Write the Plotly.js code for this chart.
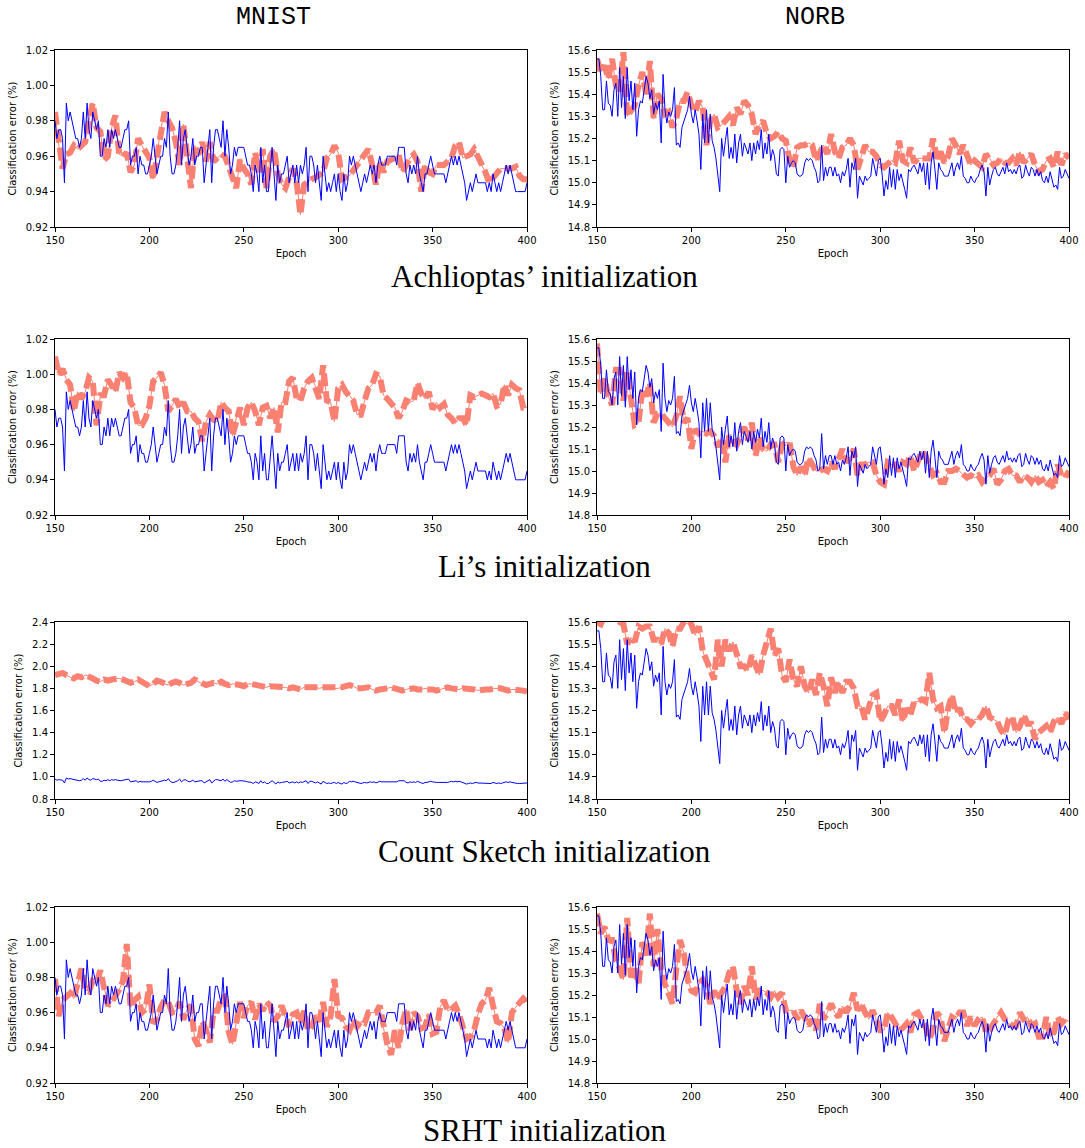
<!DOCTYPE html>
<html><head><meta charset="utf-8">
<script src="https://cdn.plot.ly/plotly-3.0.1.min.js"></script>
<style>body{margin:0;background:#fff}</style>
</head><body><div id="chart" style="width:1085px;height:1148px"></div>
<script>
// Baseline (blue) series, one value per epoch 150..400
const blueMnist = [
0.98,0.97,0.975,0.975,0.97,0.945,0.99,0.98,0.985,0.98,
0.975,0.97,0.97,0.965,0.97,0.985,0.97,0.99,0.975,0.97,
0.985,0.98,0.975,0.98,0.96,0.96,0.97,0.965,0.975,0.965,
0.975,0.97,0.975,0.97,0.965,0.965,0.97,0.975,0.975,0.98,
0.955,0.96,0.96,0.965,0.95,0.96,0.955,0.955,0.95,0.95,
0.955,0.96,0.97,0.96,0.95,0.955,0.96,0.96,0.97,0.965,
0.985,0.96,0.95,0.95,0.955,0.965,0.98,0.955,0.97,0.975,
0.965,0.955,0.96,0.97,0.955,0.96,0.96,0.965,0.965,0.945,
0.955,0.965,0.975,0.945,0.965,0.975,0.975,0.97,0.965,0.98,
0.96,0.975,0.965,0.95,0.955,0.965,0.96,0.965,0.965,0.965,
0.965,0.96,0.955,0.955,0.95,0.94,0.955,0.95,0.94,0.965,
0.945,0.955,0.94,0.94,0.955,0.965,0.95,0.935,0.955,0.945,
0.95,0.95,0.955,0.96,0.945,0.95,0.955,0.945,
0.955,0.945,0.955,0.95,0.955,0.965,0.94,0.96,0.96,0.955,
0.945,0.955,0.945,0.935,0.96,0.95,0.94,0.945,0.94,0.945,
0.95,0.94,0.95,0.94,0.935,0.95,0.94,0.945,0.96,0.955,
0.96,0.955,0.95,0.945,0.94,0.945,0.95,0.945,0.95,0.955,
0.95,0.955,0.945,0.955,0.96,0.955,0.955,0.955,0.96,0.96,
0.96,0.96,0.96,0.955,0.965,0.965,0.965,0.965,0.95,0.945,
0.955,0.95,0.955,0.95,0.96,0.95,0.945,0.94,0.95,0.95,
0.955,0.96,0.955,0.95,0.95,0.95,0.95,0.95,0.95,0.945,
0.95,0.955,0.96,0.955,0.96,0.955,0.96,0.955,0.95,0.945,
0.935,0.94,0.945,0.94,0.945,0.95,0.945,0.945,0.945,0.945,
0.945,0.94,0.945,0.94,0.95,0.945,0.94,0.945,0.94,0.945,
0.95,0.955,0.95,0.955,0.95,0.945,0.94,0.94,0.94,0.94,
0.94,0.94,0.945];
const blueNorb = [
15.56,15.56,15.48,15.33,15.33,15.46,15.36,15.35,15.30,15.42,
15.45,15.30,15.52,15.34,15.48,15.29,15.52,15.37,15.46,15.33,
15.45,15.21,15.33,15.37,15.36,15.42,15.48,15.45,15.38,15.42,
15.31,15.36,15.33,15.37,15.18,15.49,15.33,15.27,15.32,15.30,
15.33,15.43,15.17,15.18,15.16,15.25,15.28,15.31,15.33,15.39,
15.31,15.27,15.33,15.28,15.22,15.06,15.31,15.18,15.33,15.18,
15.31,15.19,15.16,15.11,15.04,14.96,15.20,15.12,15.19,15.25,
15.11,15.16,15.11,15.22,15.09,15.18,15.22,15.12,15.18,15.15,
15.13,15.18,15.10,15.18,15.13,15.19,15.15,15.24,15.11,15.18,
15.13,15.22,15.10,15.15,15.12,15.04,15.03,15.15,15.16,15.15,
15.00,15.12,15.07,15.09,15.10,15.09,15.04,15.03,15.03,15.04,
15.09,15.11,15.10,15.11,15.10,15.07,15.05,15.00,15.01,15.17,
15.01,15.07,15.03,15.07,15.07,15.03,15.07,15.03,
15.04,15.00,15.05,15.03,15.06,15.11,14.98,15.09,15.06,15.11,
14.93,15.03,15.01,14.99,15.03,15.01,15.02,15.03,15.11,15.06,
15.03,15.10,15.11,15.04,14.94,15.01,14.97,15.07,14.98,15.06,
14.97,15.06,15.01,15.04,15.01,14.97,14.93,15.06,15.05,15.07,
15.08,15.06,15.04,15.09,15.05,15.09,14.99,15.09,14.97,15.09,
15.14,15.06,14.97,15.09,15.06,15.05,15.03,15.03,15.03,15.06,
15.09,15.03,15.07,15.09,15.06,15.12,15.03,15.02,15.00,15.00,
15.03,15.01,15.00,15.02,15.03,15.06,15.08,15.05,14.94,15.07,
14.99,15.03,15.06,15.07,15.04,15.03,15.05,15.07,15.04,15.09,
15.05,15.06,15.04,15.06,15.04,15.07,15.08,15.02,15.03,15.08,
15.05,15.03,15.07,15.06,15.03,15.06,15.03,15.05,15.01,15.00,
15.03,15.00,15.05,15.01,14.98,14.99,14.97,15.07,15.02,15.03,
15.06,15.04,15.02];

// Sketched-initialization (orange) series, one value every 2 epochs 150..400
const orAchMnist = [
0.985,0.966,0.953,0.961,0.962,0.966,0.964,0.966,0.968,0.980,
0.990,0.976,0.974,0.958,0.960,0.976,0.983,0.961,0.960,0.962,
0.951,0.955,0.970,0.966,0.962,0.959,0.947,0.961,0.975,0.985,
0.980,0.976,0.968,0.955,0.978,0.962,0.942,0.966,0.961,0.968,
0.957,0.968,0.957,0.959,0.961,0.960,0.955,0.948,0.942,0.958,
0.953,0.950,0.944,0.962,0.951,0.964,0.942,0.960,0.964,0.950,
0.944,0.942,0.948,0.953,0.945,0.927,0.944,0.946,0.947,0.948,
0.950,0.951,0.959,0.961,0.966,0.962,0.947,0.948,0.949,0.952,
0.955,0.959,0.962,0.964,0.955,0.944,0.957,0.951,0.957,0.958,
0.959,0.961,0.951,0.955,0.959,0.961,0.957,0.940,0.955,0.951,
0.950,0.955,0.955,0.955,0.957,0.959,0.966,0.968,0.959,0.960,
0.961,0.964,0.960,0.955,0.951,0.945,0.948,0.951,0.953,0.953,
0.953,0.953,0.954,0.949,0.947,0.947];
const orAchNorb = [
15.56,15.50,15.53,15.47,15.56,15.44,15.41,15.59,15.30,15.33,
15.35,15.44,15.50,15.40,15.55,15.29,15.40,15.38,15.31,15.32,
15.25,15.29,15.37,15.37,15.41,15.35,15.32,15.37,15.34,15.17,
15.28,15.31,15.25,15.26,15.28,15.30,15.26,15.34,15.31,15.37,
15.35,15.31,15.22,15.26,15.28,15.22,15.20,15.21,15.23,15.20,
15.19,15.10,15.07,15.16,15.17,15.17,15.18,15.17,15.10,15.14,
15.17,15.13,15.22,15.14,15.11,15.16,15.17,15.20,15.17,15.06,
15.12,15.17,15.14,15.14,15.12,15.08,15.07,15.09,15.10,15.09,
15.19,15.10,15.09,15.16,15.09,15.11,15.11,15.11,15.11,15.20,
15.11,15.14,15.09,15.12,15.20,15.17,15.13,15.17,15.13,15.08,
15.10,15.08,15.07,15.13,15.11,15.08,15.09,15.11,15.09,15.09,
15.11,15.08,15.14,15.09,15.11,15.13,15.08,15.05,15.06,15.10,
15.11,15.07,15.14,15.08,15.13,15.11];
const orLiMnist = [
1.010,1.000,1.003,0.997,0.994,0.979,0.990,0.986,0.990,0.998,
0.996,0.971,0.988,0.988,0.997,0.994,0.990,1.001,0.998,1.001,
0.984,0.981,0.971,0.971,0.975,0.982,0.996,0.998,1.001,0.994,
0.979,0.982,0.986,0.981,0.984,0.979,0.979,0.975,0.973,0.962,
0.973,0.977,0.974,0.973,0.984,0.981,0.979,0.965,0.975,0.981,
0.971,0.981,0.984,0.979,0.971,0.981,0.982,0.975,0.981,0.967,
0.984,0.984,0.996,0.998,0.986,0.985,0.992,0.996,0.998,0.993,
0.986,1.005,0.985,0.984,0.973,0.992,0.994,0.990,0.988,0.985,
0.977,0.977,0.985,0.992,0.994,1.000,0.999,0.988,0.986,0.984,
0.981,0.975,0.979,0.985,0.984,0.985,0.995,0.989,0.986,0.990,
0.980,0.984,0.981,0.983,0.977,0.975,0.972,0.975,0.975,0.971,
0.988,0.987,0.988,0.989,0.988,0.987,0.989,0.982,0.983,0.994,
0.988,0.994,0.992,0.991,0.981,0.981];
const orLiNorb = [
15.58,15.35,15.42,15.34,15.30,15.46,15.46,15.32,15.45,15.34,
15.21,15.22,15.37,15.34,15.40,15.22,15.26,15.26,15.24,15.22,
15.20,15.25,15.34,15.22,15.24,15.10,15.19,15.17,15.18,15.17,
15.18,15.16,15.11,15.15,15.04,15.16,15.14,15.12,15.16,15.20,
15.14,15.22,15.07,15.15,15.10,15.09,15.12,15.12,15.04,15.12,
15.13,15.13,15.02,14.98,15.02,14.98,15.06,15.03,15.00,15.00,
15.01,15.00,15.04,15.01,15.06,15.10,15.04,15.06,15.10,14.98,
15.03,15.03,15.04,15.04,14.98,14.95,14.94,15.04,15.03,15.03,
15.00,15.04,15.03,15.07,15.00,15.04,15.09,15.07,15.03,14.98,
14.99,14.95,14.95,15.00,15.00,15.01,15.00,14.98,14.97,14.98,
14.97,14.98,14.95,14.97,14.98,15.01,14.94,14.96,15.00,15.01,
14.98,14.98,14.95,14.98,14.97,14.95,14.98,14.95,14.96,14.93,
14.95,14.92,15.03,14.98,14.97,15.00];
const orCsMnist = [
1.92,1.93,1.94,1.92,1.90,1.89,1.91,1.90,1.92,1.91,
1.89,1.87,1.86,1.88,1.87,1.88,1.89,1.89,1.88,1.87,
1.85,1.86,1.88,1.86,1.84,1.82,1.84,1.87,1.86,1.84,
1.83,1.85,1.86,1.85,1.83,1.84,1.85,1.88,1.86,1.84,
1.83,1.84,1.85,1.84,1.86,1.84,1.83,1.84,1.84,1.83,
1.82,1.84,1.84,1.83,1.82,1.81,1.81,1.82,1.82,1.82,
1.81,1.81,1.80,1.81,1.80,1.79,1.81,1.81,1.81,1.81,
1.80,1.81,1.80,1.81,1.80,1.80,1.81,1.82,1.83,1.82,
1.80,1.80,1.81,1.81,1.79,1.78,1.79,1.79,1.80,1.81,
1.80,1.79,1.78,1.79,1.80,1.80,1.79,1.79,1.80,1.79,
1.79,1.78,1.79,1.80,1.81,1.80,1.79,1.79,1.80,1.80,
1.79,1.79,1.78,1.79,1.79,1.79,1.80,1.80,1.80,1.79,
1.78,1.79,1.79,1.78,1.78,1.77];
const orCsNorb = [
15.60,15.59,15.63,15.65,15.64,15.63,15.60,15.59,15.50,15.53,
15.51,15.58,15.57,15.58,15.58,15.52,15.52,15.50,15.57,15.55,
15.49,15.57,15.57,15.60,15.61,15.59,15.54,15.58,15.47,15.42,
15.39,15.34,15.52,15.40,15.52,15.47,15.51,15.46,15.40,15.40,
15.38,15.45,15.40,15.36,15.45,15.51,15.57,15.45,15.48,15.36,
15.33,15.43,15.34,15.31,15.40,15.31,15.28,15.34,15.27,15.37,
15.31,15.22,15.35,15.28,15.33,15.28,15.33,15.33,15.30,15.22,
15.22,15.16,15.21,15.27,15.28,15.15,15.18,15.22,15.22,15.18,
15.25,15.15,15.21,15.18,15.24,15.24,15.25,15.24,15.37,15.25,
15.21,15.22,15.10,15.21,15.27,15.19,15.21,15.16,15.16,15.14,
15.16,15.16,15.18,15.22,15.17,15.16,15.15,15.11,15.09,15.16,
15.17,15.10,15.13,15.18,15.14,15.14,15.07,15.10,15.12,15.13,
15.10,15.15,15.17,15.14,15.19,15.16];
const orSrhtMnist = [
0.979,0.958,0.967,0.969,0.971,0.968,0.977,0.985,0.973,0.972,
0.978,0.977,0.984,0.975,0.964,0.966,0.969,0.973,0.978,0.999,
0.963,0.967,0.969,0.960,0.962,0.976,0.954,0.956,0.963,0.967,
0.966,0.960,0.961,0.966,0.956,0.962,0.964,0.945,0.941,0.955,
0.950,0.943,0.961,0.961,0.968,0.969,0.949,0.942,0.954,0.966,
0.957,0.964,0.966,0.956,0.965,0.961,0.966,0.964,0.955,0.958,
0.964,0.957,0.952,0.959,0.960,0.954,0.961,0.950,0.952,0.958,
0.955,0.966,0.952,0.958,0.979,0.958,0.957,0.952,0.950,0.956,
0.952,0.955,0.954,0.960,0.960,0.960,0.964,0.951,0.942,0.936,
0.950,0.940,0.954,0.962,0.950,0.960,0.958,0.951,0.952,0.959,
0.948,0.949,0.963,0.967,0.961,0.962,0.964,0.959,0.952,0.945,
0.946,0.950,0.959,0.965,0.967,0.974,0.964,0.955,0.954,0.951,
0.943,0.960,0.963,0.966,0.968,0.966];
const orSrhtNorb = [
15.57,15.48,15.51,15.45,15.45,15.36,15.32,15.27,15.55,15.28,
15.32,15.25,15.44,15.38,15.57,15.33,15.50,15.32,15.25,15.21,
15.16,15.32,15.45,15.39,15.27,15.22,15.21,15.25,15.27,15.24,
15.16,15.22,15.18,15.21,15.24,15.30,15.33,15.22,15.16,15.24,
15.20,15.33,15.18,15.22,15.22,15.21,15.19,15.22,15.19,15.21,
15.13,15.13,15.13,15.09,15.13,15.10,15.06,15.09,15.04,15.16,
15.09,15.12,15.16,15.12,15.10,15.15,15.12,15.15,15.21,15.13,
15.16,15.12,15.09,15.13,15.08,15.04,15.04,15.12,15.10,15.07,
15.04,15.05,15.07,15.03,15.11,15.12,15.09,15.06,15.00,15.04,
15.12,15.10,14.99,15.04,15.10,15.09,15.12,15.12,15.06,15.10,
15.06,15.09,15.10,15.03,15.04,15.07,15.10,15.12,15.09,15.07,
15.06,15.06,15.12,15.09,15.10,15.06,15.07,15.01,15.01,15.10,
15.01,15.03,15.10,15.07,15.09,15.08];

const epochTicks = [150, 200, 250, 300, 350, 400];
const mnistTicks = [0.92, 0.94, 0.96, 0.98, 1.00, 1.02];
const csTicks = [0.8, 1.0, 1.2, 1.4, 1.6, 1.8, 2.0, 2.2, 2.4];
const norbTicks = [14.8, 14.9, 15.0, 15.1, 15.2, 15.3, 15.4, 15.5, 15.6];
const columnTitles = ['MNIST', 'NORB'];
const rowCaptions = ['Achlioptas\u2019 initialization', 'Li\u2019s initialization',
                     'Count Sketch initialization', 'SRHT initialization'];

const BLUE_STEP = 1, ORANGE_STEP = 2, START_EPOCH = 150;
function epochsFor(arr, step) { return arr.map((_, i) => START_EPOCH + i * step); }

const panels = [
  {row:0, col:0, orange: orAchMnist,  blue: blueMnist, ticks: mnistTicks, fmt: 2},
  {row:0, col:1, orange: orAchNorb,   blue: blueNorb,  ticks: norbTicks,  fmt: 1},
  {row:1, col:0, orange: orLiMnist,   blue: blueMnist, ticks: mnistTicks, fmt: 2},
  {row:1, col:1, orange: orLiNorb,    blue: blueNorb,  ticks: norbTicks,  fmt: 1},
  {row:2, col:0, orange: orCsMnist,   blue: blueMnist, ticks: csTicks,    fmt: 1},
  {row:2, col:1, orange: orCsNorb,    blue: blueNorb,  ticks: norbTicks,  fmt: 1},
  {row:3, col:0, orange: orSrhtMnist, blue: blueMnist, ticks: mnistTicks, fmt: 2},
  {row:3, col:1, orange: orSrhtNorb,  blue: blueNorb,  ticks: norbTicks,  fmt: 1},
];

const W = 1085, H = 1148;
const colPx = [[55, 527], [597, 1069]];
const rowPx = [[50, 227], [339, 515], [622, 799], [907, 1083]];
const ORANGE = '#FA8072', BLUE = '#0000FF';
const tickFont = {family: 'DejaVu Sans, sans-serif', size: 10, color: '#000'};

const data = [];
const layout = {
  width: W, height: H, margin: {l:0, r:0, t:0, b:0},
  paper_bgcolor: '#fff', plot_bgcolor: '#fff', showlegend: false,
  annotations: []
};

panels.forEach((p, i) => {
  const n = i + 1;
  const xa = 'x' + (n === 1 ? '' : n), ya = 'y' + (n === 1 ? '' : n);
  const xo = epochsFor(p.orange, ORANGE_STEP), xb = epochsFor(p.blue, BLUE_STEP);
  data.push({x: xo, y: p.orange, xaxis: xa, yaxis: ya, mode: 'lines', type: 'scatter',
             line: {color: ORANGE, width: 1}, hoverinfo: 'skip'});
  data.push({x: xo, y: p.orange, xaxis: xa, yaxis: ya, mode: 'lines', type: 'scatter',
             line: {color: ORANGE, width: 6, dash: '13px,5px'}, hoverinfo: 'skip'});
  data.push({x: xb, y: p.blue, xaxis: xa, yaxis: ya, mode: 'lines', type: 'scatter',
             line: {color: BLUE, width: 1}, hoverinfo: 'skip'});
  const c = colPx[p.col], r = rowPx[p.row];
  const common = {
    showline: true, linecolor: '#000', linewidth: 1, mirror: true,
    ticks: 'outside', ticklen: 4, tickwidth: 1, tickcolor: '#000',
    showgrid: false, zeroline: false, tickfont: tickFont, fixedrange: true
  };
  layout['xaxis' + (n === 1 ? '' : n)] = Object.assign({}, common, {
    domain: [c[0] / W, c[1] / W], anchor: ya, range: [150, 400],
    tickmode: 'array', tickvals: epochTicks, ticktext: epochTicks.map(String),
    title: {text: 'Epoch', font: tickFont, standoff: 4}
  });
  layout['yaxis' + (n === 1 ? '' : n)] = Object.assign({}, common, {
    domain: [1 - r[1] / H, 1 - r[0] / H], anchor: xa,
    range: [p.ticks[0], p.ticks[p.ticks.length - 1]],
    tickmode: 'array', tickvals: p.ticks, ticktext: p.ticks.map(v => v.toFixed(p.fmt)),
    title: {text: 'Classification error (%)', font: tickFont, standoff: 7}
  });
});

const colCenters = [273, 815];
columnTitles.forEach((t, i) => layout.annotations.push({
  text: t, x: colCenters[i] / W, y: 1 - 17 / H, xref: 'paper', yref: 'paper',
  xanchor: 'center', yanchor: 'middle', showarrow: false,
  font: {family: 'Liberation Mono, DejaVu Sans Mono, monospace', size: 25, color: '#000'}
}));
const captionY = [277, 566, 851, 1130];
rowCaptions.forEach((t, i) => layout.annotations.push({
  text: t, x: 544.5 / W, y: 1 - captionY[i] / H, xref: 'paper', yref: 'paper',
  xanchor: 'center', yanchor: 'middle', showarrow: false,
  font: {family: 'Liberation Serif, Times New Roman, serif', size: 31, color: '#000'}
}));

Plotly.newPlot('chart', data, layout, {staticPlot: true, displayModeBar: false});
</script></body></html>
